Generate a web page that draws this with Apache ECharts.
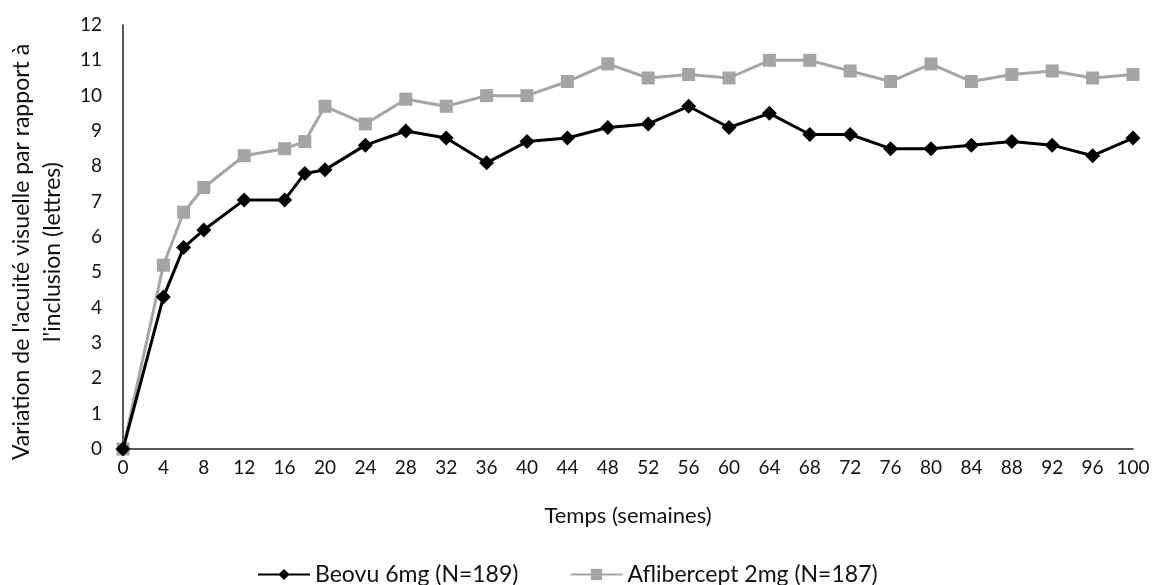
<!DOCTYPE html>
<html>
<head>
    <meta charset="utf-8">
    <title>Acuité visuelle</title>
    <script src="https://cdn.jsdelivr.net/npm/echarts@6/dist/echarts.min.js"></script>
    <style>
        html, body { margin: 0; padding: 0; background: #fff; }
        #main { width: 1154px; height: 585px; }
    </style>
</head>
<body>
    <div id="main"></div>
    <script type="text/javascript">
        // semaines
        var weeks = [0, 4, 6, 8, 12, 16, 18, 20, 24, 28, 32, 36, 40, 44, 48, 52, 56, 60, 64, 68, 72, 76, 80, 84, 88, 92, 96, 100];
        var beovu = [0, 4.3, 5.7, 6.2, 7.05, 7.05, 7.8, 7.9, 8.6, 9.0, 8.8, 8.1, 8.7, 8.8, 9.1, 9.2, 9.7, 9.1, 9.5, 8.9, 8.9, 8.5, 8.5, 8.6, 8.7, 8.6, 8.3, 8.8];
        var aflibercept = [0, 5.2, 6.7, 7.4, 8.3, 8.5, 8.7, 9.7, 9.2, 9.9, 9.7, 10.0, 10.0, 10.4, 10.9, 10.5, 10.6, 10.5, 11.0, 11.0, 10.7, 10.4, 10.9, 10.4, 10.6, 10.7, 10.5, 10.6];
        var seriesNames = ['Beovu 6mg (N=189)', 'Aflibercept 2mg (N=187)'];

        function pairs(ys) {
            var out = [];
            for (var i = 0; i < weeks.length; i++) {
                out.push([weeks[i], ys[i]]);
            }
            return out;
        }

        var font = 'Lato, "Open Sans", sans-serif';
        var myChart = echarts.init(document.getElementById('main'));

        var option = {
            animation: false,
            textStyle: { fontFamily: font, color: '#111' },
            grid: { left: 123, right: 21, top: 25, bottom: 136, outerBoundsMode: 'none', containLabel: false },
            legend: {
                left: 252,
                top: 558,
                itemWidth: 52,
                itemHeight: 14,
                itemGap: 51,
                textStyle: { fontFamily: font, fontSize: 23, color: '#111' },
                data: seriesNames
            },
            xAxis: {
                type: 'value',
                min: 0,
                max: 100,
                interval: 4,
                name: 'Temps (semaines)',
                nameLocation: 'middle',
                nameGap: 56,
                nameTextStyle: { fontFamily: font, fontSize: 22, color: '#111' },
                axisLine: { lineStyle: { color: '#222', width: 1.5 } },
                axisTick: { show: false },
                splitLine: { show: false },
                axisLabel: { fontFamily: font, fontSize: 19, color: '#111', margin: 9 }
            },
            yAxis: {
                type: 'value',
                min: 0,
                max: 12,
                interval: 1,
                name: "Variation de l'acuité visuelle par rapport à\nl'inclusion (lettres)",
                nameLocation: 'middle',
                nameGap: 55,
                nameTextStyle: { fontFamily: font, fontSize: 23, color: '#111', lineHeight: 31, padding: [0, 30, 0, 0] },
                axisLine: { show: true, lineStyle: { color: '#222', width: 1.5 } },
                axisTick: { show: false },
                splitLine: { show: false },
                axisLabel: { fontFamily: font, fontSize: 19, color: '#111', margin: 21 }
            },
            series: [
                {
                    name: seriesNames[1],
                    type: 'line',
                    data: pairs(aflibercept),
                    symbol: 'rect',
                    symbolSize: 13,
                    z: 2,
                    lineStyle: { color: '#a5a5a5', width: 3 },
                    itemStyle: { color: '#a5a5a5' }
                },
                {
                    name: seriesNames[0],
                    type: 'line',
                    data: pairs(beovu),
                    symbol: 'diamond',
                    symbolSize: 15,
                    z: 3,
                    lineStyle: { color: '#000', width: 3 },
                    itemStyle: { color: '#000' }
                }
            ]
        };

        myChart.setOption(option);
    </script>
</body>
</html>
